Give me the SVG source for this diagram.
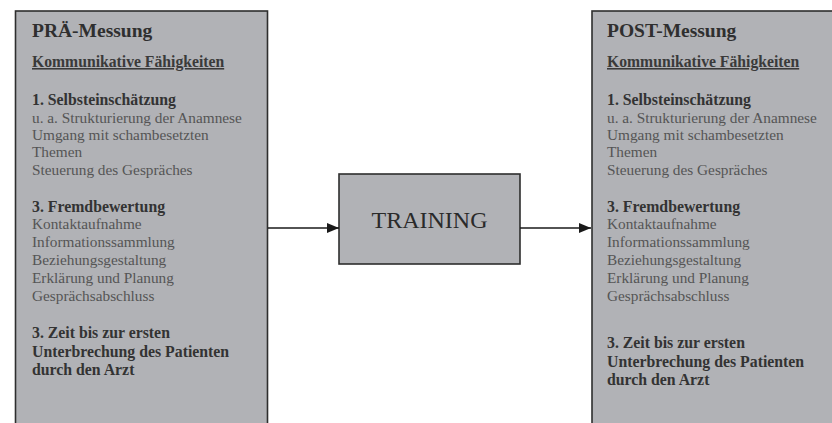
<svg xmlns="http://www.w3.org/2000/svg" width="832" height="423" viewBox="0 0 832 423">
<defs>
<style>
.box{fill:#b1b2b6;stroke:#2e2e2e;stroke-width:1.6}
.t{font-family:"Liberation Serif","Times New Roman",serif}
.title{font-size:19.5px;font-weight:bold;fill:#2f2f2f}
.head{font-size:15.7px;font-weight:bold;fill:#3a3a3a;text-decoration:underline}
.b{font-size:15.8px;font-weight:bold;fill:#333}
.r{font-size:15.3px;fill:#555}
.conn{stroke:#1a1a1a;stroke-width:1.4;fill:none}
</style>
<marker id="arr" viewBox="0 0 12 10" refX="12" refY="5" markerWidth="12" markerHeight="10" markerUnits="userSpaceOnUse" orient="auto">
<path d="M0,0 L12,5 L0,10 z" fill="#1a1a1a"/>
</marker>
</defs>
<rect width="832" height="423" fill="#fff"/>
<g id="pre">
<rect class="box" x="15.5" y="11" width="252" height="430"/>
<g class="t">
<text class="title" x="32" y="37">PRÄ-Messung</text>
<text class="head" x="32" y="67">Kommunikative Fähigkeiten</text>
<text class="b" x="32" y="105">1. Selbsteinschätzung</text>
<text class="r" x="32" y="123">u. a. Strukturierung der Anamnese</text>
<text class="r" x="32" y="140">Umgang mit schambesetzten</text>
<text class="r" x="32" y="157">Themen</text>
<text class="r" x="32" y="175">Steuerung des Gespräches</text>
<text class="b" x="32" y="212">3. Fremdbewertung</text>
<text class="r" x="32" y="229">Kontaktaufnahme</text>
<text class="r" x="32" y="247">Informationssammlung</text>
<text class="r" x="32" y="265">Beziehungsgestaltung</text>
<text class="r" x="32" y="283">Erklärung und Planung</text>
<text class="r" x="32" y="301">Gesprächsabschluss</text>
<text class="b" x="32" y="338">3. Zeit bis zur ersten</text>
<text class="b" x="32" y="357">Unterbrechung des Patienten</text>
<text class="b" x="32" y="375">durch den Arzt</text>
</g>
</g>
<g id="training">
<rect class="box" x="339" y="174" width="181" height="90"/>
<text class="t" x="429.5" y="228" font-size="24" fill="#2a2a2a" text-anchor="middle">TRAINING</text>
</g>
<g id="post">
<rect class="box" x="592" y="11" width="260" height="430"/>
<g class="t">
<text class="title" x="607" y="37">POST-Messung</text>
<text class="head" x="607" y="67">Kommunikative Fähigkeiten</text>
<text class="b" x="607" y="105">1. Selbsteinschätzung</text>
<text class="r" x="607" y="123">u. a. Strukturierung der Anamnese</text>
<text class="r" x="607" y="140">Umgang mit schambesetzten</text>
<text class="r" x="607" y="157">Themen</text>
<text class="r" x="607" y="175">Steuerung des Gespräches</text>
<text class="b" x="607" y="212">3. Fremdbewertung</text>
<text class="r" x="607" y="229">Kontaktaufnahme</text>
<text class="r" x="607" y="247">Informationssammlung</text>
<text class="r" x="607" y="265">Beziehungsgestaltung</text>
<text class="r" x="607" y="283">Erklärung und Planung</text>
<text class="r" x="607" y="301">Gesprächsabschluss</text>
<text class="b" x="607" y="348">3. Zeit bis zur ersten</text>
<text class="b" x="607" y="367">Unterbrechung des Patienten</text>
<text class="b" x="607" y="385">durch den Arzt</text>
</g>
</g>
<g id="connectors">
<line class="conn" x1="268" y1="228" x2="339" y2="228" marker-end="url(#arr)"/>
<line class="conn" x1="520" y1="228" x2="591" y2="228" marker-end="url(#arr)"/>
</g>
</svg>
